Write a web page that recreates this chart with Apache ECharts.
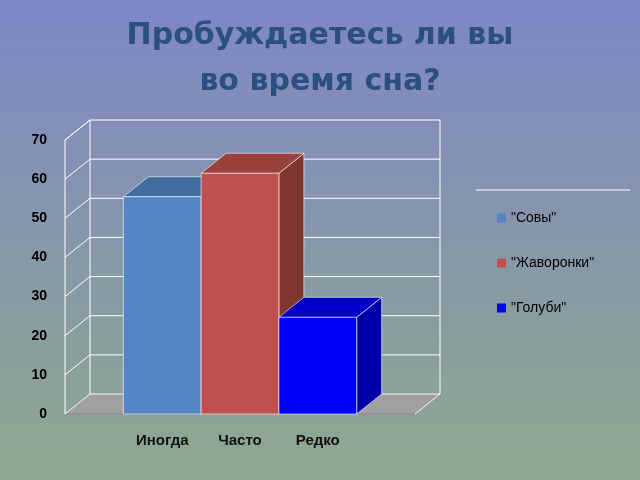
<!DOCTYPE html>
<html><head><meta charset="utf-8">
<script src="https://cdn.jsdelivr.net/npm/echarts@6/dist/echarts.min.js"></script>
<style>html,body{margin:0;padding:0}#c{width:640px;height:480px}</style>
</head><body><div id="c"></div>
<script>
const seriesNames = ['"Совы"', '"Жаворонки"', '"Голуби"'];
const categories = ['Иногда', 'Часто', 'Редко'];
const values = [55.5, 61.5, 24.7];
const yTicks = [0, 10, 20, 30, 40, 50, 60, 70];
const faces = [
  ['#5585C5', '#416C9E', '#3A5F8E'],
  ['#C0504D', '#9A403D', '#7F3530'],
  ['#0000FF', '#0000C8', '#0000A8']
];
const DX = 25, DY = -20;
const chart = echarts.init(document.getElementById('c'));

function wallRender(params, api) {
  const cs = params.coordSys;
  const x0 = cs.x, x1 = cs.x + cs.width;
  const children = [];
  if (params.dataIndex === 0) {
    const yb = cs.y + cs.height;
    children.push({type:'polygon', shape:{points:[[x0,yb],[x1,yb],[x1+DX,yb+DY],[x0+DX,yb+DY]]}, style:{fill:'#A0A0A0', stroke:'#888'}});
  }
  const y = api.coord([0, api.value(0)])[1];
  children.push({type:'polyline', shape:{points:[[x0,y],[x0+DX,y+DY],[x1+DX,y+DY]]}, style:{stroke:'#FFFFFF', lineWidth:1, fill:null}});
  if (params.dataIndex === 0) {
    const yt = api.coord([0, 70])[1];
    children.push({type:'polyline', shape:{points:[[x0,y],[x0,yt],[x0+DX,yt+DY],[x0+DX,y+DY]]}, style:{stroke:'#FFFFFF', fill:null}});
    children.push({type:'line', shape:{x1:x1+DX,y1:yt+DY,x2:x1+DX,y2:y+DY}, style:{stroke:'#FFFFFF'}});
    children.push({type:'line', shape:{x1:x1,y1:y,x2:x1+DX,y2:y+DY}, style:{stroke:'#FFFFFF'}});
  }
  return {type:'group', children};
}

function barRender(k) {
  return function(params, api) {
    const p0 = api.coord([k + 0.5, 0]);
    const p1 = api.coord([k + 1.5, api.value(1)]);
    const l = p0[0], r = p1[0], b = p0[1], t = p1[1];
    const f = faces[k];
    const mid = api.coord([k + 1, 0]);
    return {type:'group', children:[
      {type:'polygon', shape:{points:[[r,b],[r+DX,b+DY],[r+DX,t+DY],[r,t]]}, style:{fill:f[2], stroke:'#fff', lineWidth:0.6}},
      {type:'polygon', shape:{points:[[l,t],[r,t],[r+DX,t+DY],[l+DX,t+DY]]}, style:{fill:f[1], stroke:'#fff', lineWidth:0.6}},
      {type:'rect', shape:{x:l, y:t, width:r-l, height:b-t}, style:{fill:f[0], stroke:'#fff', lineWidth:0.6}},
      {type:'text', x: mid[0], y: b + 27, style:{text: categories[k], fill:'#111', font:'bold 15px "Liberation Sans", Arial', align:'center', verticalAlign:'middle'}}
    ]};
  };
}

const series = [{
  type:'custom', name:'walls', silent:true, renderItem: wallRender,
  data: yTicks.map(v => [v]), encode:{y:0}, z:1
}];
seriesNames.forEach((n, k) => {
  series.push({type:'custom', name:n, renderItem: barRender(k), itemStyle:{color: faces[k][0]},
    data:[[k + 1, values[k]]], encode:{x:0, y:1}, z:2});
});

chart.setOption({
  animation:false,
  backgroundColor:{type:'linear', x:0, y:0, x2:0, y2:1, colorStops:[{offset:0,color:'#7F86C6'},{offset:1,color:'#8EA88E'}]},
  title:{text:'Пробуждаетесь ли вы\nво время сна?', left:'center', top:8,
    textStyle:{color:'#2B4F80', fontSize:30, fontWeight:'bold', fontFamily:'"DejaVu Sans", sans-serif', lineHeight:46}},
  grid:{left:65, right:225, top:140, bottom:66},
  xAxis:{type:'value', min:-0.25, max:4.25, show:false},
  yAxis:{type:'value', min:0, max:70, interval:10, axisLine:{show:false}, axisTick:{show:false}, splitLine:{show:false},
    axisLabel:{color:'#000', fontWeight:'bold', fontSize:14, fontFamily:'"Liberation Sans", Arial', margin:18}},
  legend:{data:seriesNames, orient:'vertical', left:492, top:206, itemGap:31, itemWidth:9, itemHeight:9,
    icon:'rect', textStyle:{color:'#000', fontSize:14, fontFamily:'"Liberation Sans", Arial'}},
  graphic:[{type:'line', shape:{x1:476,y1:190,x2:630,y2:190}, style:{stroke:'#fff', lineWidth:1}}],
  series
});
</script></body></html>
